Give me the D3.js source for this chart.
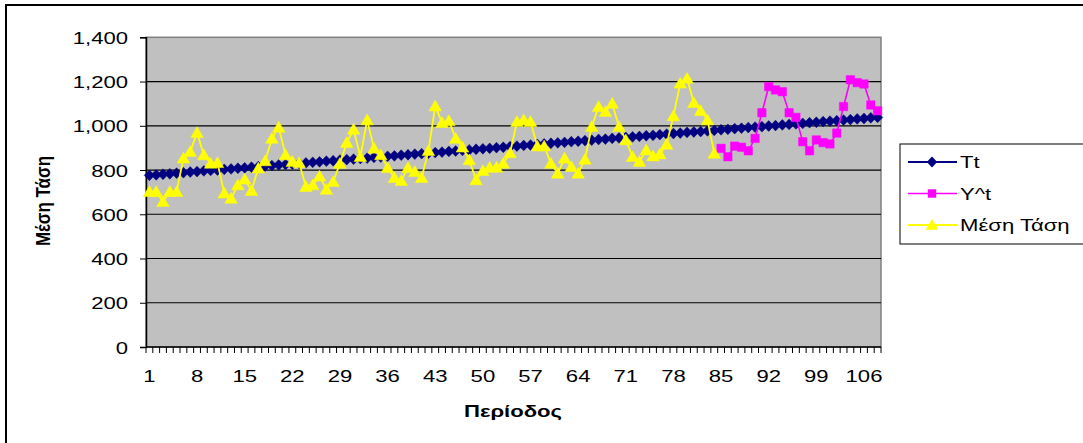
<!DOCTYPE html>
<html><head><meta charset="utf-8">
<script src="https://cdn.jsdelivr.net/npm/d3@7"></script>
<style>body{margin:0;background:#fff;overflow:hidden;} svg{display:block;}</style>
</head><body>
<svg id="c" width="1083" height="443"></svg>
<script>
// ---------- DATA ----------
const periods = d3.range(1, 109);
const trendTt = [776,778,781,783,786,788,791,793,796,798,800,803,805,808,810,813,815,818,820,823,825,827,830,832,835,837,840,842,845,847,849,852,854,857,859,862,864,867,869,872,874,876,879,881,884,886,889,891,894,896,898,901,903,906,908,911,913,916,918,921,923,925,928,930,933,935,938,940,943,945,947,950,952,955,957,960,962,965,967,970,972,974,977,979,982,984,987,989,992,994,996,999,1001,1004,1006,1009,1011,1014,1016,1019,1021,1023,1026,1028,1031,1033,1036,1038];
const forecastPeriods = d3.range(85, 109);
const forecastY = [898,860,908,903,887,943,1059,1177,1162,1154,1059,1038,928,887,936,924,918,967,1087,1208,1195,1189,1094,1068];
const meanPeriods = d3.range(1, 85);
const meanTrend = [702,702,657,702,702,853,883,969,868,830,833,695,672,732,758,707,808,841,943,993,868,838,833,725,732,772,712,747,830,924,984,860,1026,898,868,810,765,752,810,792,765,887,1089,1014,1023,943,903,845,755,797,812,812,830,877,1018,1026,1018,908,908,830,785,853,815,785,848,996,1086,1064,1101,996,936,860,838,890,863,872,916,1044,1192,1214,1104,1068,1026,875];
const yTicks = [0,200,400,600,800,1000,1200,1400];
const xTickLabels = [1,8,15,22,29,36,43,50,57,64,71,78,85,92,99,106];
const seriesNames = ["Tt","Y^t","Μέση Τάση"];
const yTitle = "Μέση Τάση";
const xTitle = "Περίοδος";

// ---------- LAYOUT ----------
const svg = d3.select("#c");
const FONT = "'Liberation Sans', Arial, sans-serif";
const SX = 1.3; // horizontal stretch of text
const plot = {l:146, r:881, t:37.3, b:347};
const x = d3.scaleBand().domain(periods).range([plot.l, plot.r]).padding(0);
const cx = p => x(p) + x.bandwidth()/2;
const y = d3.scaleLinear().domain([0,1400]).range([plot.b, plot.t]);

// outer border
svg.append("rect").attr("x",6).attr("y",5).attr("width",1300).attr("height",700)
  .attr("fill","#fff").attr("stroke","#000").attr("stroke-width",2);

// plot area
svg.append("rect").attr("x",plot.l).attr("y",plot.t).attr("width",plot.r-plot.l).attr("height",plot.b-plot.t)
  .attr("fill","#c0c0c0").attr("stroke","#808080").attr("stroke-width",1.5);

// gridlines
svg.append("g").selectAll("line").data(yTicks.filter(d=>d>0 && d<1400)).join("line")
  .attr("x1",plot.l).attr("x2",plot.r).attr("y1",d=>y(d)).attr("y2",d=>y(d))
  .attr("stroke","#000").attr("stroke-width",1.2);

// Y axis
const yAxis = svg.append("g").attr("transform",`translate(${plot.l},0)`)
  .call(d3.axisLeft(y).tickValues(yTicks).tickSize(6).tickFormat(d3.format(",")));
yAxis.select(".domain").attr("stroke","#000").attr("stroke-width",1.5);
yAxis.selectAll(".tick line").attr("stroke","#000");
yAxis.selectAll("text").attr("x",-18/SX).attr("dy","0.36em")
  .attr("transform",`scale(${SX},1)`)
  .attr("font-family",FONT).attr("font-size",17).attr("fill","#000");

// X axis (labels)
const xAxis = svg.append("g").attr("transform",`translate(0,${plot.b})`)
  .call(d3.axisBottom(x).tickValues(xTickLabels).tickSize(0));
xAxis.select(".domain").remove();
xAxis.selectAll("text").attr("y",35).attr("dy","0")
  .attr("transform",`scale(${SX},1)`).attr("x",0)
  .attr("font-family",FONT).attr("font-size",17).attr("fill","#000");
// category tick marks
svg.append("g").selectAll("line").data(periods.concat(["end"])).join("line")
  .attr("x1",d=>d==="end"?plot.r:x(d)).attr("x2",d=>d==="end"?plot.r:x(d))
  .attr("y1",plot.b).attr("y2",plot.b+6).attr("stroke","#000").attr("stroke-width",1);
svg.append("line").attr("x1",plot.l).attr("x2",plot.r).attr("y1",plot.b).attr("y2",plot.b)
  .attr("stroke","#000").attr("stroke-width",1.5);

// titles
svg.append("text").attr("transform",`translate(50,201) scale(1.2,1) rotate(-90)`)
  .attr("text-anchor","middle").attr("font-family",FONT).attr("font-weight","bold")
  .attr("font-size",17).text(yTitle);
svg.append("text").attr("transform",`translate(513,417) scale(${SX},1)`)
  .attr("text-anchor","middle").attr("font-family",FONT).attr("font-weight","bold")
  .attr("font-size",17).text(xTitle);

// ---------- SERIES ----------
const diamond = "M0,-5.4L5.2,0L0,5.4L-5.2,0Z";
const square = "M-4.2,-4.2H4.2V4.2H-4.2Z";
const tri = "M0,-6L6.3,4.8H-6.3Z";
const series = [
  {name:seriesNames[0], px:periods, vals:trendTt, color:"#000080", sym:diamond, lw:2.2},
  {name:seriesNames[1], px:forecastPeriods, vals:forecastY, color:"#ff00ff", sym:square, lw:1.6},
  {name:seriesNames[2], px:meanPeriods, vals:meanTrend, color:"#ffff00", sym:tri, lw:1.8}
];
const line = d3.line().x(d=>cx(d[0])).y(d=>y(d[1]));
series.forEach(s=>{
  const pts = s.px.map((p,i)=>[p,s.vals[i]]);
  const g = svg.append("g");
  g.append("path").attr("d",line(pts)).attr("fill","none").attr("stroke",s.color).attr("stroke-width",s.lw);
  g.selectAll("path.m").data(pts).join("path").attr("class","m")
    .attr("transform",d=>`translate(${cx(d[0])},${y(d[1])})`)
    .attr("d",s.sym).attr("fill",s.color).attr("stroke",s.color).attr("stroke-width",0.5);
});

// ---------- LEGEND ----------
const lg = svg.append("g");
lg.append("rect").attr("x",900).attr("y",144).attr("width",400).attr("height",100)
  .attr("fill","#fff").attr("stroke","#000").attr("stroke-width",1);
series.forEach((s,i)=>{
  const yy = 162 + i*31.5;
  lg.append("line").attr("x1",908).attr("x2",957).attr("y1",yy).attr("y2",yy)
    .attr("stroke",s.color).attr("stroke-width",s.lw);
  lg.append("path").attr("transform",`translate(932,${yy})`).attr("d",s.sym).attr("fill",s.color);
  lg.append("text").attr("transform",`translate(960,${yy+6}) scale(${SX},1)`)
    .attr("font-family",FONT).attr("font-size",17).text(s.name);
});
</script>
</body></html>
